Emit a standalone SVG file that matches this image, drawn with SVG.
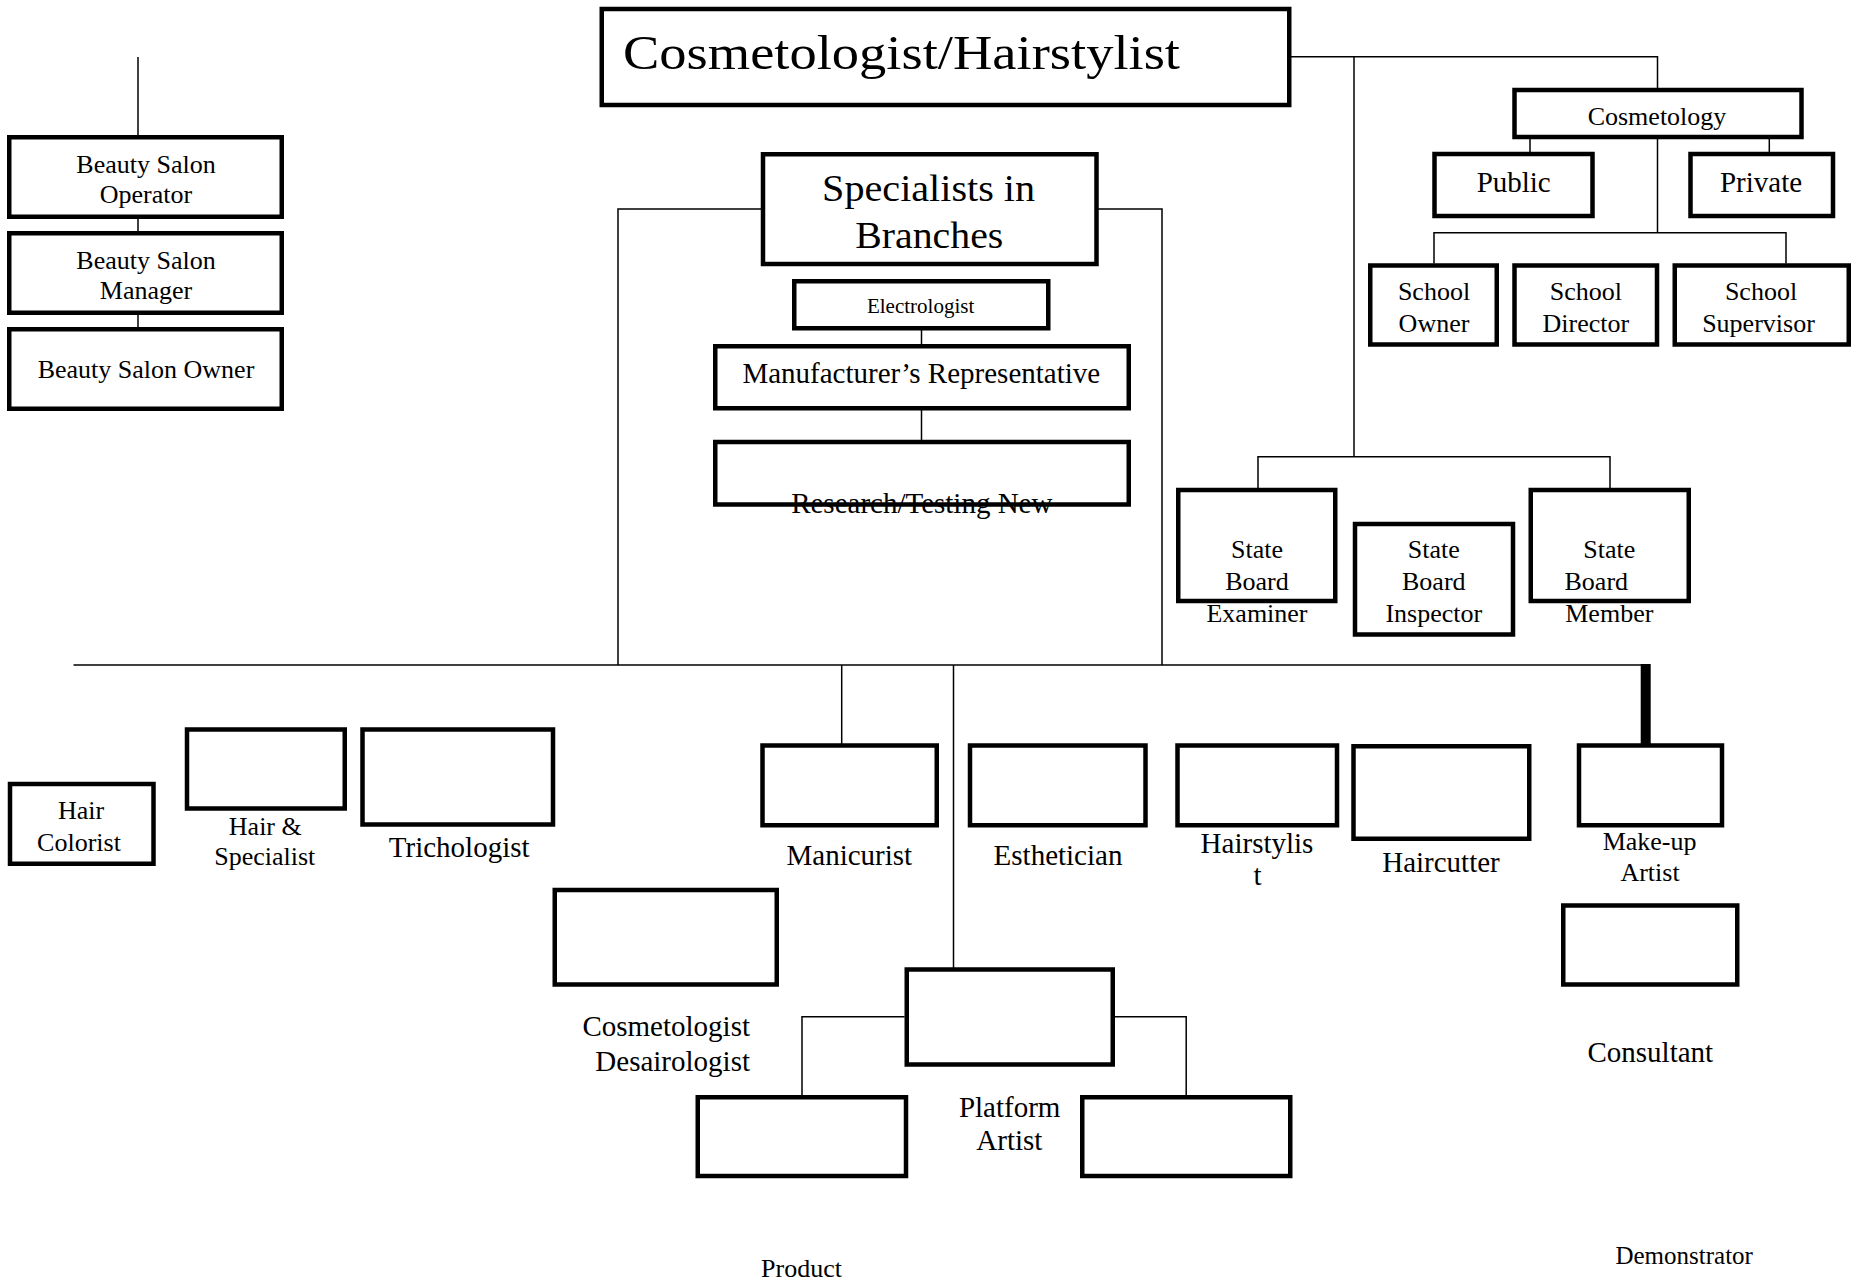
<svg xmlns="http://www.w3.org/2000/svg" width="1860" height="1282" viewBox="0 0 1860 1282">
<style>
.box{fill:#fff;stroke:#000;stroke-width:4.5}
.ln{fill:none;stroke:#000;stroke-width:1.5}
.thick{fill:none;stroke:#000;stroke-width:10}
text{font-family:"Liberation Serif","Times New Roman",serif;fill:#000;text-anchor:middle}
.s21{font-size:21px}.s25{font-size:25px}.s26{font-size:26px}.s29{font-size:29px}
</style>
<rect width="1860" height="1282" fill="#fff"/>
<g id="connectors">
<line class="ln" x1="138" y1="57" x2="138" y2="135"/>
<line class="ln" x1="138" y1="219" x2="138" y2="231"/>
<line class="ln" x1="138" y1="298" x2="138" y2="327"/>
<polyline class="ln" points="1291,56.7 1657.5,56.7 1657.5,88"/>
<line class="ln" x1="1354" y1="56.7" x2="1354" y2="456.7"/>
<polyline class="ln" points="1258,488 1258,456.7 1610,456.7 1610,488"/>
<line class="ln" x1="1530" y1="139" x2="1530" y2="152"/>
<line class="ln" x1="1769.3" y1="139" x2="1769.3" y2="152"/>
<line class="ln" x1="1657.5" y1="139" x2="1657.5" y2="232.7"/>
<polyline class="ln" points="1434,263.5 1434,232.7 1786,232.7 1786,263.5"/>
<polyline class="ln" points="763,209 618,209 618,665"/>
<polyline class="ln" points="1096,209 1162,209 1162,665"/>
<line class="ln" x1="921.5" y1="330" x2="921.5" y2="344"/>
<line class="ln" x1="921.5" y1="410" x2="921.5" y2="440"/>
<line class="ln" x1="73.5" y1="665" x2="1650" y2="665"/>
<line class="ln" x1="841.7" y1="665" x2="841.7" y2="745"/>
<line class="ln" x1="953.5" y1="665" x2="953.5" y2="969"/>
<line class="thick" x1="1645.7" y1="664" x2="1645.7" y2="745"/>
<polyline class="ln" points="904.6,1016.7 802,1016.7 802,1097"/>
<polyline class="ln" points="1114.8,1016.7 1186.2,1016.7 1186.2,1097"/>
</g>
<g id="beauty-salon-operator"><rect class="box" x="9.25" y="137.25" width="272.5" height="79.5"/><text class="s26" x="146" y="173">Beauty Salon</text><text class="s26" x="146" y="203">Operator</text></g>
<g id="beauty-salon-manager"><rect class="box" x="9.25" y="233.25" width="272.5" height="79.5"/><text class="s26" x="146" y="269">Beauty Salon</text><text class="s26" x="146" y="299">Manager</text></g>
<g id="beauty-salon-owner"><rect class="box" x="9.25" y="329.25" width="272.5" height="79.5"/><text class="s26" x="146" y="378">Beauty Salon Owner</text></g>
<g id="cosmetologist-hairstylist"><rect class="box" x="601.75" y="9" width="687.5" height="96"/><text x="623" y="69" style="font-size:48px;text-anchor:start" textLength="557" lengthAdjust="spacingAndGlyphs">Cosmetologist/Hairstylist</text></g>
<g id="specialists"><rect class="box" x="763" y="154.25" width="333.5" height="109.75"/><text x="928.6" y="201" style="font-size:37px" textLength="213" lengthAdjust="spacingAndGlyphs">Specialists in</text><text x="929.3" y="247.5" style="font-size:37px" textLength="148" lengthAdjust="spacingAndGlyphs">Branches</text></g>
<g id="electrologist"><rect class="box" x="794.25" y="281.25" width="254" height="47"/><text class="s21" x="920.6" y="312.5">Electrologist</text></g>
<g id="manufacturers-rep"><rect class="box" x="715.25" y="346.25" width="413.5" height="62"/><text class="s29" x="921.3" y="383.4">Manufacturer’s Representative</text></g>
<g id="research"><rect class="box" x="715.25" y="442" width="413.5" height="62.5"/><text class="s29" x="921.8" y="513">Research/Testing New</text></g>
<g id="cosmetology"><rect class="box" x="1514.5" y="90" width="287" height="47"/><text class="s26" x="1657" y="125">Cosmetology</text></g>
<g id="public"><rect class="box" x="1434.5" y="154" width="158" height="62"/><text class="s29" x="1513.7" y="191.7">Public</text></g>
<g id="private"><rect class="box" x="1690.5" y="154" width="142.5" height="62"/><text class="s29" x="1761" y="191.7">Private</text></g>
<g id="school-owner"><rect class="box" x="1370.25" y="265.5" width="126.5" height="79"/><text class="s26" x="1434" y="300">School</text><text class="s26" x="1434" y="331.7">Owner</text></g>
<g id="school-director"><rect class="box" x="1514.5" y="265.5" width="142.5" height="79"/><text class="s26" x="1585.8" y="300">School</text><text class="s26" x="1585.8" y="331.7">Director</text></g>
<g id="school-supervisor"><rect class="box" x="1674.75" y="265.5" width="174" height="79"/><text class="s26" x="1761" y="300">School</text><text class="s26" x="1758.5" y="331.7">Supervisor</text></g>
<g id="state-board-examiner"><rect class="box" x="1178.25" y="490" width="157" height="111"/><text class="s26" x="1257" y="558.3">State</text><text class="s26" x="1257" y="590">Board</text><text class="s26" x="1257" y="621.7">Examiner</text></g>
<g id="state-board-inspector"><rect class="box" x="1355" y="524" width="158" height="110.5"/><text class="s26" x="1433.8" y="558.3">State</text><text class="s26" x="1433.8" y="590">Board</text><text class="s26" x="1433.8" y="621.7">Inspector</text></g>
<g id="state-board-member"><rect class="box" x="1530.75" y="490" width="158" height="111"/><text class="s26" x="1609.3" y="558.3">State</text><text class="s26" x="1596.3" y="590">Board</text><text class="s26" x="1609.3" y="621.7">Member</text></g>
<g id="hair-colorist"><rect class="box" x="10" y="784" width="143.5" height="79.75"/><text class="s26" x="81" y="819.3">Hair</text><text class="s26" x="79" y="850.7">Colorist</text></g>
<g id="hair-specialist"><rect class="box" x="187" y="729.5" width="157.75" height="79"/><text class="s26" x="265.3" y="835">Hair &amp;</text><text class="s26" x="264.8" y="865">Specialist</text></g>
<g id="trichologist"><rect class="box" x="362.5" y="729.5" width="190.5" height="95"/><text class="s29" x="459.2" y="856.7">Trichologist</text></g>
<g id="cosmetologist-desairologist"><rect class="box" x="554.75" y="890" width="222" height="94.5"/><text class="s29" x="750" y="1036" style="text-anchor:end">Cosmetologist</text><text class="s29" x="750" y="1070.7" style="text-anchor:end">Desairologist</text></g>
<g id="manicurist"><rect class="box" x="762.5" y="745.5" width="174.25" height="79.75"/><text class="s29" x="849.3" y="865">Manicurist</text></g>
<g id="esthetician"><rect class="box" x="970" y="745.5" width="175.5" height="79.75"/><text class="s29" x="1058" y="865">Esthetician</text></g>
<g id="hairstylist"><rect class="box" x="1177.5" y="745.5" width="159.5" height="79.75"/><text class="s29" x="1257" y="853.3">Hairstylis</text><text class="s29" x="1257.5" y="885">t</text></g>
<g id="haircutter"><rect class="box" x="1353.5" y="746.25" width="175.75" height="92.5"/><text class="s29" x="1441" y="871.7">Haircutter</text></g>
<g id="makeup-artist"><rect class="box" x="1579" y="745.5" width="143" height="79.75"/><text class="s26" x="1649.6" y="850">Make-up</text><text class="s26" x="1650" y="880.7">Artist</text></g>
<g id="consultant"><rect class="box" x="1563.25" y="905.5" width="174" height="79"/><text class="s29" x="1650.3" y="1061.7">Consultant</text></g>
<g id="demonstrator-label"><text class="s25" x="1684.2" y="1264">Demonstrator</text></g>
<g id="platform-artist"><rect class="box" x="906.75" y="969.5" width="206" height="95"/><text class="s29" x="1009.7" y="1116.7">Platform</text><text class="s29" x="1009.4" y="1150">Artist</text></g>
<g id="product"><rect class="box" x="697.75" y="1097.25" width="208.25" height="78.75"/><text class="s26" x="801.5" y="1276.7">Product</text></g>
<g id="demonstrator"><rect class="box" x="1082.25" y="1097.25" width="208" height="78.75"/></g>
</svg>
